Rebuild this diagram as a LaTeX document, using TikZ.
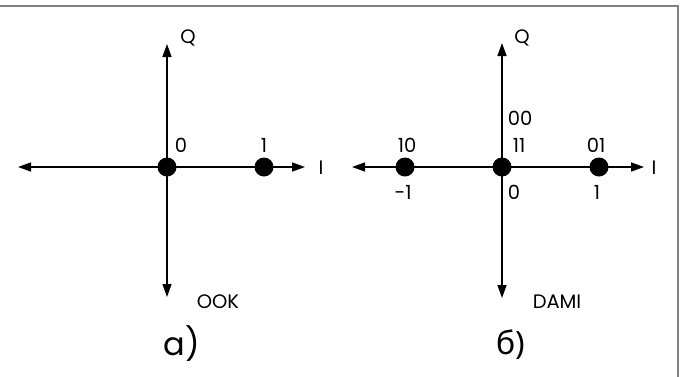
\documentclass[tikz,border=0pt]{standalone}
\usepackage{fontspec}
\setmainfont{Poppins}
\newfontfamily\cyrfont{Noto Sans}
\usetikzlibrary{arrows.meta}
\begin{document}
\begin{tikzpicture}[x=1pt,y=-1pt,
  axis/.style={line width=1.4pt,{Triangle[length=13pt,width=9pt]}-{Triangle[length=13pt,width=9pt]}},
  dot/.style={circle,fill=black,inner sep=0pt,minimum size=19pt},
  lbl/.style={inner sep=0pt,anchor=center,font=\fontsize{19.5}{22}\selectfont},
  captext/.style={inner sep=0pt,anchor=center,font=\fontsize{32}{36}\selectfont}]
\useasboundingbox (0,0) rectangle (684,376);
\draw[gray,line width=2pt] (0,5.5) -- (678,5.5) -- (678,377);
% left diagram
\coordinate (aL) at (18,167);
\coordinate (aR) at (305,167);
\coordinate (aT) at (167,44);
\coordinate (aB) at (167,297);
\draw[axis] (aL) -- (aR);
\draw[axis] (aB) -- (aT);
\node[dot] (a0) at (167,167) {};
\node[dot] (a1) at (264,167) {};
\node[lbl] (aQ) at (188,38) {Q};
\node[lbl] (aI) at (321,168) {I};
\node[lbl] (a0l) at (181,145) {0};
\node[lbl] (a1l) at (264,145) {1};
\node[lbl] (aook) at (218,302) {OOK};
\node[captext] (acap) at (182,344) {a)};
% right diagram
\coordinate (bL) at (352,167);
\coordinate (bR) at (644,167);
\coordinate (bT) at (502,43);
\coordinate (bB) at (502,298);
\draw[axis] (bL) -- (bR);
\draw[axis] (bB) -- (bT);
\node[dot] (bm) at (405,167) {};
\node[dot] (b0) at (502,167) {};
\node[dot] (bp) at (599,167) {};
\node[lbl] (bQ) at (522,38) {Q};
\node[lbl] (bI) at (654,168) {I};
\node[lbl] (b00) at (520,118) {00};
\node[lbl] (b11) at (519,145) {11};
\node[lbl] (b10) at (407,145) {10};
\node[lbl] (b01) at (596,145) {01};
\node[lbl] (bm1) at (403,192) {-1};
\node[lbl] (b0l) at (514,192) {0};
\node[lbl] (b1l) at (597,192) {1};
\node[lbl] (bdami) at (557,302) {DAMI};
\node[captext] (bcap) at (511,345) {\cyrfont б)};
\end{tikzpicture}
\end{document}
